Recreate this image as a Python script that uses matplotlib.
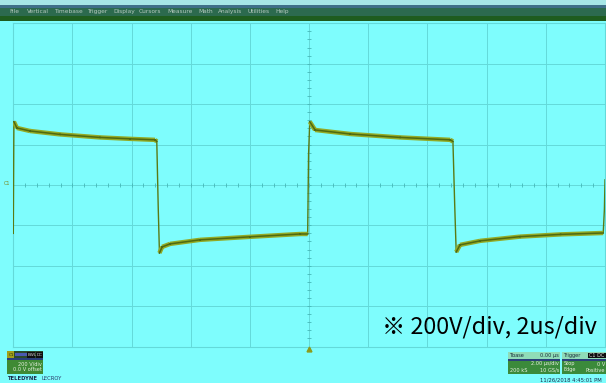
import numpy as np
import matplotlib
matplotlib.use('Agg')
import matplotlib.pyplot as plt
from matplotlib.patches import Rectangle

# ---- waveform (time in us from left edge, volts) ----
t_us = [0.00, 0.02, 0.12, 0.56, 1.58, 2.93, 3.95, 4.79, 4.85, 4.90, 4.94,
        5.03, 5.30, 6.31, 8.00, 9.70, 9.95, 9.98, 10.02, 10.20, 11.39,
        13.08, 14.77, 14.86, 14.92, 14.97, 15.10, 15.78, 17.13, 18.50,
        19.94, 19.98, 20.00]
volts = [-240, 313, 282, 267, 250, 235, 228, 223, 215, -120, -337,
         -307, -292, -272, -257, -243, -243, 150, 313, 272, 252,
         235, 223, 215, -100, -332, -297, -277, -256, -245,
         -238, -120, 25]

V_DIV = 200      # V/div
T_DIV = 2        # us/div
N_XDIV, N_YDIV = 10, 8

menu_items = ['File', 'Vertical', 'Timebase', 'Trigger', 'Display', 'Cursors',
              'Measure', 'Math', 'Analysis', 'Utilities', 'Help']
menu_x = [9, 27, 54, 87, 113, 139, 167, 198, 218, 248, 275]

note_text = '\u203b 200V/div, 2us/div'

# ---- figure in pixel coordinates ----
W, H = 606, 383
BG = '#7efdfd'
GRID = '#64d9d9'
fig = plt.figure(figsize=(W / 100, H / 100), dpi=100)
fig.patch.set_facecolor(BG)

def fx(x): return x / W
def fy(y): return 1 - y / H

def rect(x0, y0, x1, y1, col):
    fig.add_artist(Rectangle((fx(x0), fy(y1)), fx(x1 - x0), (y1 - y0) / H,
                             transform=fig.transFigure, facecolor=col,
                             edgecolor='none', zorder=1))

def txt(x, y, s, **kw):
    fig.text(fx(x), fy(y), s, va='center', **kw)

# menu bar
rect(0, 0, W, 5, '#a6e6e6')
rect(0, 5, W, 8, '#3f6f88')
rect(0, 8, W, 16, '#2c6a4e')
rect(0, 16, W, 21, '#1e5c1e')
for s, x in zip(menu_items, menu_x):
    txt(x, 11.5, s, fontsize=4.2, color='#b4c8be')

# ---- graticule ----
L, R, T, B = 13.3, 605, 23.3, 346.5
ax = fig.add_axes([fx(L), fy(B), fx(R - L), (B - T) / H])
ax.set_facecolor(BG)
ax.set_xlim(0, N_XDIV * T_DIV)
ax.set_ylim(-N_YDIV / 2 * V_DIV, N_YDIV / 2 * V_DIV)
ax.set_xticks([]); ax.set_yticks([])
for sp in ax.spines.values():
    sp.set_color(GRID); sp.set_linewidth(0.8)
for i in range(1, N_XDIV):
    ax.axvline(i * T_DIV, color=GRID, lw=0.7, zorder=1)
for j in range(1, N_YDIV):
    ax.axhline((j - N_YDIV / 2) * V_DIV, color=GRID, lw=0.7, zorder=1)

# minor ticks on the centre cross
xm = np.arange(0, N_XDIV * T_DIV + 1e-9, T_DIV / 5)
ax.plot(xm, np.zeros_like(xm), ls='none', marker='|', ms=3, mew=0.6, color='#45b8b8', zorder=2)
ym = np.arange(-N_YDIV / 2 * V_DIV, N_YDIV / 2 * V_DIV + 1e-9, V_DIV / 5)
ax.plot(np.full_like(ym, N_XDIV * T_DIV / 2), ym, ls='none', marker='_', ms=3, mew=0.6,
        color='#45b8b8', zorder=2)

# trace: wide band on the flat tops, thin line on the edges
t_arr = np.array(t_us, float)
v_arr = np.array(volts, float)
steep = np.abs(np.diff(v_arr)) / np.diff(t_arr) > 400
seg_t, seg_v = [], []
for k in range(len(t_arr) - 1):
    if not steep[k]:
        seg_t += [t_arr[k], t_arr[k + 1], np.nan]
        seg_v += [v_arr[k], v_arr[k + 1], np.nan]
ax.plot(t_arr, v_arr, color='#5a7a14', lw=1.0, zorder=3)
ax.plot(seg_t, seg_v, color='#93aa26', lw=3.2, solid_capstyle='butt', zorder=3)
ax.plot(seg_t, seg_v, color='#4e6a10', lw=1.1, zorder=4)

# trigger marker and channel marker
ax.plot([N_XDIV * T_DIV / 2], [-N_YDIV / 2 * V_DIV - 12], marker='^', ms=3.5,
        color='#8c9c1c', clip_on=False, zorder=5)
txt(4, 183.5, 'C1', fontsize=3.5, color='#7a8a20')

# note
txt(382, 327, note_text, fontsize=16.8, color='black',
    family=['Noto Sans CJK KR', 'DejaVu Sans'])

# ---- bottom-left channel box ----
rect(7, 351, 43, 358, '#2a4a2a')
rect(7, 351, 14, 358, '#a2a01a')
rect(15, 353, 27, 356, '#4a5ab0')
rect(27, 352, 35, 357.5, '#101010')
rect(35.5, 352, 42.5, 357.5, '#101010')
rect(7, 358, 43, 374, '#3f8a34')
rect(7, 358, 43, 360, '#2a3f7a')
txt(8.5, 354.5, 'C1', fontsize=3, color='#203010')
txt(28, 354.8, 'BWL', fontsize=3, color='#d0d0d0')
txt(36.5, 354.8, 'DC', fontsize=3, color='#d0d0d0')
txt(42, 363.5, '200 V/div', fontsize=3.6, color='#e8f0e0', ha='right')
txt(42, 369.8, '0.0 V offset', fontsize=3.6, color='#e8f0e0', ha='right')
txt(7, 379, 'TELEDYNE', fontsize=3.8, color='#1a2a4a', weight='bold')
txt(41, 379, 'LECROY', fontsize=3.8, color='#2a3a6a')

# ---- bottom-right timebase / trigger boxes ----
rect(508, 352, 560, 374, '#3b8a3b')
rect(508, 352, 560, 358.5, '#8fdcb8')
rect(508, 358.5, 560, 361, '#2a3f7a')
txt(509.5, 355.3, 'Tbase', fontsize=3.6, color='#1a2a3a')
txt(559, 355.3, '0.00 \u00b5s', fontsize=3.6, color='#1a2a3a', ha='right')
txt(559, 364, '2.00 \u00b5s/div', fontsize=3.6, color='#e8f0e0', ha='right')
txt(509.5, 370, '200 kS', fontsize=3.6, color='#e8f0e0')
txt(559, 370, '10 GS/s', fontsize=3.6, color='#e8f0e0', ha='right')

rect(562, 352, 606, 374, '#3b8a3b')
rect(562, 352, 606, 358.5, '#8fdcb8')
rect(562, 358.5, 606, 361, '#2a3f7a')
rect(588, 352.5, 606, 358, '#101010')
txt(563.5, 355.3, 'Trigger', fontsize=3.6, color='#1a2a3a')
txt(589, 355.3, 'C1 DC', fontsize=3.6, color='#e0e0e0')
txt(563.5, 364, 'Stop', fontsize=3.6, color='#e8f0e0')
txt(605, 364, '0 V', fontsize=3.6, color='#e8f0e0', ha='right')
txt(563.5, 370, 'Edge', fontsize=3.6, color='#e8f0e0')
txt(605, 370, 'Positive', fontsize=3.6, color='#e8f0e0', ha='right')

txt(602, 380, '11/26/2018 4:45:01 PM', fontsize=3.8, color='#1a2a4a', ha='right')

fig.savefig('out.png', dpi=100, facecolor=fig.get_facecolor())
